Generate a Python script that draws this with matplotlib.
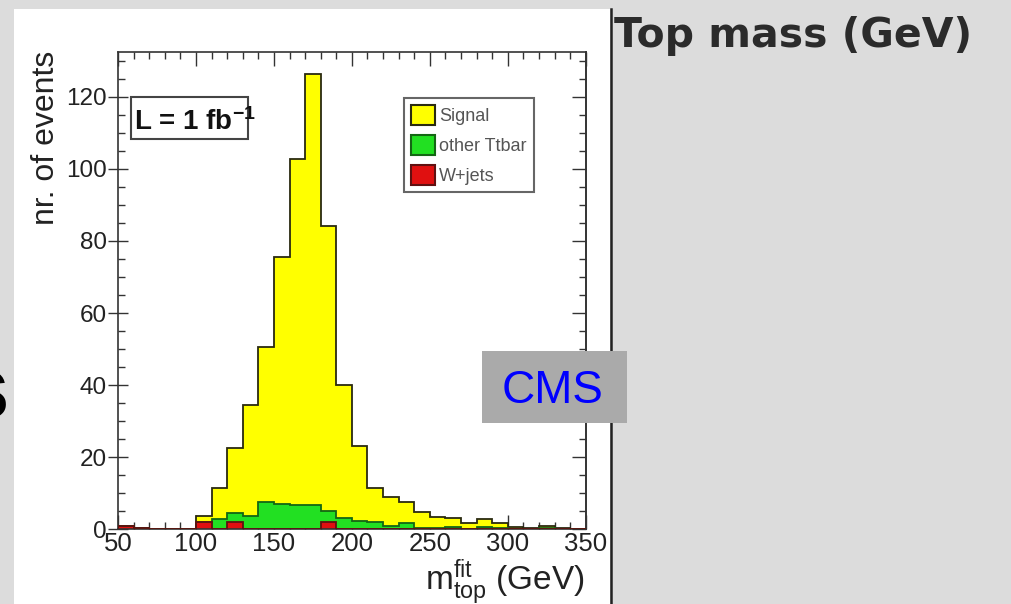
import matplotlib

matplotlib.use("Agg")
import matplotlib.pyplot as plt
import numpy as np
from matplotlib.patches import Patch, Rectangle

plt.rcParams["font.family"] = ["Liberation Sans", "DejaVu Sans"]
plt.rcParams["mathtext.fontset"] = "custom"
plt.rcParams["mathtext.rm"] = "Liberation Sans"
plt.rcParams["mathtext.it"] = "Liberation Sans:italic"
plt.rcParams["mathtext.bf"] = "Liberation Sans:bold"

# fitted top mass, 10 GeV bins from 50 to 350 GeV
bin_edges = np.arange(50, 351, 10)
signal = [0, 0, 0, 0, 0, 1.6, 8.6, 18.1, 30.8, 43.0,
          68.6, 95.9, 119.5, 78.9, 37.0, 20.9, 9.5, 8.1, 5.7, 4.5,
          3.2, 2.4, 1.7, 2.2, 1.5, 0.5, 0.1, 0.7, 0.1, 0.0]
other_ttbar = [0, 0, 0, 0, 0, 0, 2.8, 2.3, 3.7, 7.7,
               7.0, 6.7, 6.8, 3.1, 3.0, 2.3, 2.0, 0.9, 1.8, 0.3,
               0.3, 0.6, 0.1, 0.6, 0.3, 0.2, 0.2, 0.3, 0.2, 0.2]
wjets = [0.8, 0.3, 0, 0, 0, 2.1, 0, 2.1, 0, 0,
         0, 0, 0, 2.1, 0, 0, 0, 0, 0, 0,
         0, 0, 0, 0, 0, 0, 0, 0, 0, 0]

labels = ["Signal", "other Ttbar", "W+jets"]
fills = ["#ffff00", "#22e022", "#e01010"]
edges = ["#2a2a10", "#146614", "#601010"]

W, H = 1011, 604


def fig_box(x0, y0, x1, y1):
    # pixel box (top-left origin) -> figure fraction rectangle
    return [x0 / W, 1 - y1 / H, (x1 - x0) / W, (y1 - y0) / H]


fig = plt.figure(figsize=(W / 100, H / 100), dpi=100, facecolor="#dcdcdc")

# white slide panel and separator line
panel = fig_box(14, 8.5, 610, 604)
fig.patches.append(Rectangle(panel[:2], panel[2], panel[3], transform=fig.transFigure,
                             facecolor="white", edgecolor="none", zorder=-5))
fig.add_artist(plt.Line2D([611.3 / W, 611.3 / W], [0, 1 - 8.5 / H], transform=fig.transFigure,
                          color="#222222", lw=1.8, zorder=1))

ax = fig.add_axes(fig_box(118, 51.7, 585.8, 529.3))
ax.set_zorder(2)
ax.set_facecolor("white")

# stacked, drawn back to front like ROOT's THStack
stack = np.cumsum([wjets, other_ttbar, signal], axis=0)
for level, fc, ec in zip([stack[2], stack[1], stack[0]], fills, edges):
    ax.stairs(level, bin_edges, fill=True, color=fc, zorder=2)
    ax.stairs(level, bin_edges, fill=False, color=ec, lw=1.3, zorder=3)

ax.set_xlim(50, 350)
ax.set_ylim(0, 132.5)
ax.set_xticks(np.arange(50, 351, 50))
ax.set_xticks(np.arange(50, 351, 10), minor=True)
ax.set_yticks(np.arange(0, 121, 20))
ax.set_yticks(np.arange(0, 133, 5), minor=True)
ax.tick_params(which="both", direction="in", top=True, right=False, color="#333333", width=1)
ax.tick_params(which="major", length=10)
ax.tick_params(which="minor", length=5)
ax.tick_params(axis="y", which="major", direction="inout", length=14)
ax.tick_params(axis="x", labelsize=18.5, pad=2, labelcolor="#222222")
ax.tick_params(axis="y", labelsize=17.5, pad=1, labelcolor="#222222")
for s in ax.spines.values():
    s.set_color("#333333")
    s.set_linewidth(1.2)

# right-hand ticks point inward only
right = ax.secondary_yaxis("right")
right.set_yticks(np.arange(0, 121, 20))
right.set_yticks(np.arange(0, 133, 5), minor=True)
right.tick_params(which="both", direction="in", color="#333333", width=1, labelright=False)
right.tick_params(which="major", length=10)
right.tick_params(which="minor", length=5)
right.spines["right"].set_color("#333333")
right.spines["right"].set_linewidth(1.2)

fig.text(46 / W, 1 - 138 / H, "nr. of events", rotation=90, ha="center", va="center",
         fontsize=23, color="#222222")
fig.text(585 / W, 1 - 590 / H, r"$\mathrm{m}_{\mathrm{top}}^{\mathrm{fit}}$ (GeV)",
         ha="right", va="baseline", fontsize=24, color="#222222")

handles = [Patch(facecolor=fc, edgecolor=ec, lw=1.5) for fc, ec in zip(fills, edges)]
leg = ax.legend(handles, labels, loc="upper left", bbox_to_anchor=(404 / W, 1 - 98 / H),
                bbox_transform=fig.transFigure, fontsize=13, handlelength=1.3,
                handleheight=1.3, handletextpad=0.25, labelspacing=0.55, borderpad=0.4,
                borderaxespad=0, fancybox=False, framealpha=1, edgecolor="#666666")
leg.get_frame().set_linewidth(1.5)
for t in leg.get_texts():
    t.set_color("#555555")

lumi = fig_box(130.7, 96.7, 248.3, 139.3)
ax.add_artist(Rectangle(lumi[:2], lumi[2], lumi[3], transform=fig.transFigure,
                        facecolor="white", edgecolor="#444444", lw=1.5, zorder=5))
ax.text(134 / W, 1 - 130 / H, r"L = 1 fb$^{\mathbf{-1}}$", fontsize=20, fontweight="bold",
        ha="left", va="baseline", color="#111111", zorder=6, transform=fig.transFigure)

# collaboration tag over the panel edge
cms = fig_box(482, 351, 627, 423)
fig.patches.append(Rectangle(cms[:2], cms[2], cms[3], transform=fig.transFigure,
                             facecolor="#aaaaaa", edgecolor="none", zorder=10))
fig.text(553 / W, 1 - 403 / H, "CMS", fontsize=33, color="#0000ff", ha="center",
         va="baseline", zorder=11)

fig.text(614 / W, 1 - 46.7 / H, "Top mass (GeV)", family="DejaVu Sans", fontweight="bold",
         fontsize=29.5, color="#2b2b2b", ha="left", va="baseline")

# tail end of a word cut off at the left margin
fig.text(9 / W, 1 - 418 / H, "s", fontsize=64, fontweight="bold", color="black",
         ha="right", va="baseline")

fig.savefig("out.png", dpi=100, facecolor=fig.get_facecolor())
